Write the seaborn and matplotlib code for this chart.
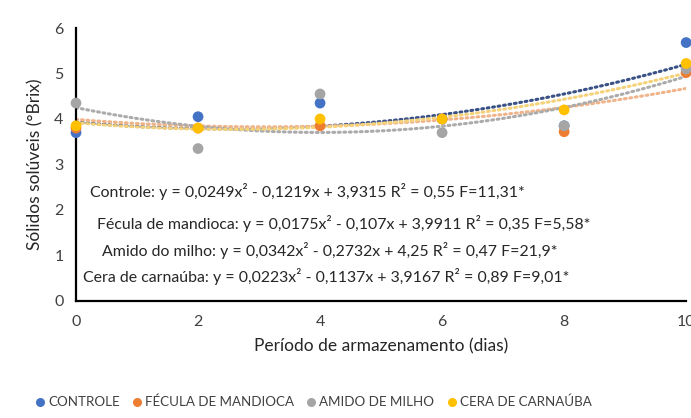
import numpy as np
import pandas as pd
import seaborn as sns
import matplotlib.pyplot as plt
from matplotlib.lines import Line2D

# storage days
dias = [0, 2, 4, 6, 8, 10]

# soluble solids (°Brix)
controle = [3.7, 4.05, 4.35, 4.0, 3.85, 5.68]
fecula = [3.8, 3.8, 3.85, 4.0, 3.72, 5.02]
amido = [4.35, 3.35, 4.55, 3.7, 3.85, 5.1]
cera = [3.85, 3.8, 4.0, 4.0, 4.2, 5.22]

tratamentos = ["CONTROLE", "FÉCULA DE MANDIOCA", "AMIDO DE MILHO", "CERA DE CARNAÚBA"]
cores = ["#4472C4", "#ED7D31", "#A5A5A5", "#FFC000"]
cores_linha = ["#3A5185", "#F0B48A", "#ABABAB", "#F5D27A"]

# quadratic trendline coefficients as printed (a, b, c)
coef_a = [0.0249, 0.0175, 0.0342, 0.0223]
coef_b = [-0.1219, -0.107, -0.2732, -0.1137]
coef_c = [3.9315, 3.9911, 4.25, 3.9167]

equacoes = [
    "Controle: y = 0,0249x² - 0,1219x + 3,9315 R² = 0,55 F=11,31*",
    "Fécula de mandioca: y = 0,0175x² - 0,107x + 3,9911 R² = 0,35 F=5,58*",
    "Amido do milho: y = 0,0342x² - 0,2732x + 4,25 R² = 0,47 F=21,9*",
    "Cera de carnaúba: y = 0,0223x² - 0,1137x + 3,9167 R² = 0,89 F=9,01*",
]
eq_x = [0.23, 0.34, 0.42, 0.11]
eq_y = [2.40, 1.71, 1.10, 0.53]

sns.set_style("white")
plt.rcParams["font.family"] = ["Lato", "DejaVu Sans"]

df = pd.DataFrame({
    "dias": dias * 4,
    "brix": controle + fecula + amido + cera,
    "trat": [t for t in tratamentos for _ in dias],
})

fig = plt.figure(figsize=(6.91, 4.18), dpi=100)
ax = fig.add_axes([0.110, 0.280, 0.883, 0.653])

# trendlines
xx = np.linspace(0, 10, 200)
for a, b, c, cor in zip(coef_a, coef_b, coef_c, cores_linha):
    ax.plot(xx, a * xx**2 + b * xx + c, color=cor, lw=2.2,
            linestyle=(0, (0.6, 1.2)), dash_capstyle="round", zorder=2)

sns.scatterplot(data=df, x="dias", y="brix", hue="trat", palette=cores,
                hue_order=tratamentos, s=60, edgecolor="none", ax=ax,
                legend=False, zorder=3, clip_on=False)

for txt, x, y in zip(equacoes, eq_x, eq_y):
    ax.text(x, y, txt, fontsize=11.4, color="#262626", va="center", ha="left")

ax.set_xlim(0, 10)
ax.set_ylim(0, 6)
ax.set_xticks(dias)
ax.set_yticks(range(0, 7))
ax.tick_params(axis="both", length=0, labelsize=11.5, colors="#404040", pad=9)
ax.tick_params(axis="x", pad=10)
ax.set_xlabel("Período de armazenamento (dias)", fontsize=12.5, color="#262626", labelpad=7)
ax.set_ylabel("Sólidos solúveis (°Brix)", fontsize=12.5, color="#262626", labelpad=8)
sns.despine(ax=ax)
for s in ["left", "bottom"]:
    ax.spines[s].set_color("black")
    ax.spines[s].set_linewidth(1.6)

handles = [Line2D([], [], marker="o", linestyle="none", markersize=6.5,
                  markerfacecolor=c, markeredgecolor="none") for c in cores]
fig.legend(handles, tratamentos, loc="center", bbox_to_anchor=(0.453, 0.038),
           ncol=4, frameon=False, fontsize=9.6, handlelength=0.8,
           handletextpad=0.2, columnspacing=0.9, labelcolor="#404040")

fig.savefig("out.png", dpi=100)
